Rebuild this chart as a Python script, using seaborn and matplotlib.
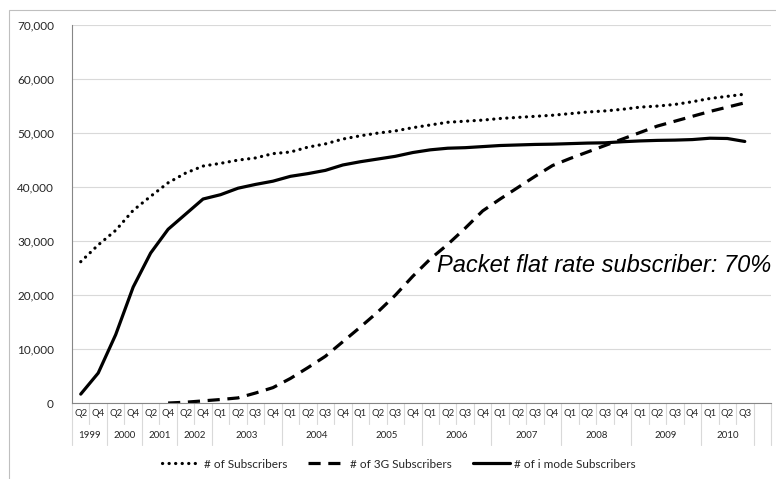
import numpy as np
import pandas as pd
import matplotlib
matplotlib.use("Agg")
import matplotlib.pyplot as plt
import seaborn as sns
from matplotlib.patches import Rectangle
from matplotlib.lines import Line2D

# Quarter labels along the category axis (last slot is an empty category)
quarters = (["Q2", "Q4"] * 4
            + ["Q1", "Q2", "Q3", "Q4"] * 7
            + ["Q1", "Q2", "Q3"]
            + [""])
# Year groups and how many quarter slots each spans
year_labels = ["1999", "2000", "2001", "2002", "2003", "2004", "2005",
               "2006", "2007", "2008", "2009", "2010", ""]
year_spans = [2, 2, 2, 2, 4, 4, 4, 4, 4, 4, 4, 3, 1]

# Subscribers (thousands)
subscribers = [26200, 29300, 32000, 35700, 38300, 40800, 42600, 43900,
               44400, 45000, 45400, 46200, 46500, 47400, 48000, 48900,
               49500, 50000, 50400, 51000, 51500, 52000, 52200, 52400,
               52700, 52900, 53100, 53300, 53600, 53900, 54100, 54400,
               54800, 55000, 55300, 55800, 56400, 56800, 57200]
g3_subscribers = [np.nan] * 5 + [
               50, 200, 450,
               700, 1000, 1900, 2900, 4600, 6600, 8700, 11400,
               14100, 16900, 20000, 23500, 26700, 29400, 32400, 35600,
               37800, 39900, 42000, 44000, 45300, 46500, 47700, 48900,
               50100, 51300, 52200, 53100, 54000, 54800, 55600]
imode_subscribers = [1700, 5600, 12700, 21500, 27800, 32200, 35000, 37800,
                     38600, 39800, 40500, 41100, 42000, 42500, 43100, 44100,
                     44700, 45200, 45700, 46400, 46900, 47200, 47300, 47500,
                     47700, 47800, 47900, 47950, 48050, 48150, 48200, 48400,
                     48550, 48650, 48700, 48800, 49050, 49000, 48450]

series_names = ["# of Subscribers", "# of 3G Subscribers", "# of i mode Subscribers"]

sns.set_theme(style="white")
plt.rcParams["font.family"] = ["Lato", "DejaVu Sans"]

W, H = 776, 479
fig = plt.figure(figsize=(W / 100, H / 100), dpi=100)
fig.patch.set_facecolor("white")

ax_left, ax_right, ax_top, ax_bottom = 72, 771, 25, 403.3
ax = fig.add_axes([ax_left / W, 1 - ax_bottom / H,
                   (ax_right - ax_left) / W, (ax_bottom - ax_top) / H])
ax_h = ax_bottom - ax_top

df = pd.DataFrame({
    "pos": np.arange(len(subscribers)),
    series_names[0]: subscribers,
    series_names[1]: g3_subscribers,
    series_names[2]: imode_subscribers,
})

line_styles = {
    series_names[0]: dict(ls=(0, (0.05, 2.0)), cap="round"),
    series_names[1]: dict(ls=(0, (3.8, 2.4)), cap="butt"),
    series_names[2]: dict(ls="-", cap="round"),
}
LW = 2.3
handles = []
for name in series_names:
    d = df[["pos", name]].dropna()
    sns.lineplot(data=d, x="pos", y=name, ax=ax, color="black",
                 linewidth=LW, legend=False)
    ln = ax.lines[-1]
    st = line_styles[name]
    ln.set_linestyle(st["ls"])
    ln.set_dash_capstyle(st["cap"])
    ln.set_solid_capstyle("round")
    h = Line2D([], [], color="black", linewidth=LW, linestyle=st["ls"])
    h.set_dash_capstyle(st["cap"])
    handles.append(h)

# Axes styling
ax.set_xlim(-0.5, len(quarters) - 0.5)
ax.set_ylim(0, 70000)
ax.set_yticks(np.arange(0, 70001, 10000))
ax.set_yticklabels([f"{v:,}" for v in range(0, 70001, 10000)])
ax.set_xticks(np.arange(len(quarters)))
ax.set_xticklabels(quarters)
ax.set_xlabel("")
ax.set_ylabel("")
ax.tick_params(axis="y", length=0, pad=13, labelsize=8.5, labelcolor="#262626")
ax.tick_params(axis="x", length=0, pad=4, labelsize=6.8, labelcolor="#262626")
ax.grid(axis="y", color="#d9d9d9", linewidth=0.8)
ax.grid(axis="x", visible=False)
ax.set_axisbelow(True)
for side in ("top", "right"):
    ax.spines[side].set_visible(False)
for side in ("left", "bottom"):
    ax.spines[side].set_color("#868686")
    ax.spines[side].set_linewidth(0.8)

# Multi-level category axis: separators and year labels
xt = ax.get_xaxis_transform()
short_y = -(424 - ax_bottom) / ax_h
long_y = -(445 - ax_bottom) / ax_h
year_y = -(435 - ax_bottom) / ax_h
year_bounds = set(np.cumsum([0] + year_spans))
for b in range(len(quarters) + 1):
    y_end = long_y if b in year_bounds else short_y
    ax.plot([b - 0.5, b - 0.5], [0, y_end], transform=xt, color="#d9d9d9",
            linewidth=0.8, clip_on=False)
start = 0
for label, span in zip(year_labels, year_spans):
    ax.text(start + (span - 1) / 2, year_y, label, transform=xt, ha="center",
            va="center", fontsize=7, color="#262626")
    start += span

# Annotation
fig.text(437 / W, 1 - 266 / H, "Packet flat rate subscriber: 70%",
         fontsize=17, style="italic", family=["Liberation Sans", "DejaVu Sans"],
         ha="left", va="center", color="black")

# Legend
fig.legend(handles, series_names, loc="center", bbox_to_anchor=(399 / W, 1 - 464 / H),
           ncol=3, frameon=False, fontsize=8.5, handlelength=3.2,
           handletextpad=0.3, columnspacing=1.8, labelcolor="#262626")

# Chart frame
fig.patches.append(Rectangle((9 / W, -0.1), 1.2, 1 - 10 / H + 0.1,
                             transform=fig.transFigure, fill=False,
                             edgecolor="#bfbfbf", linewidth=0.8))

fig.savefig("out.png", dpi=100)
